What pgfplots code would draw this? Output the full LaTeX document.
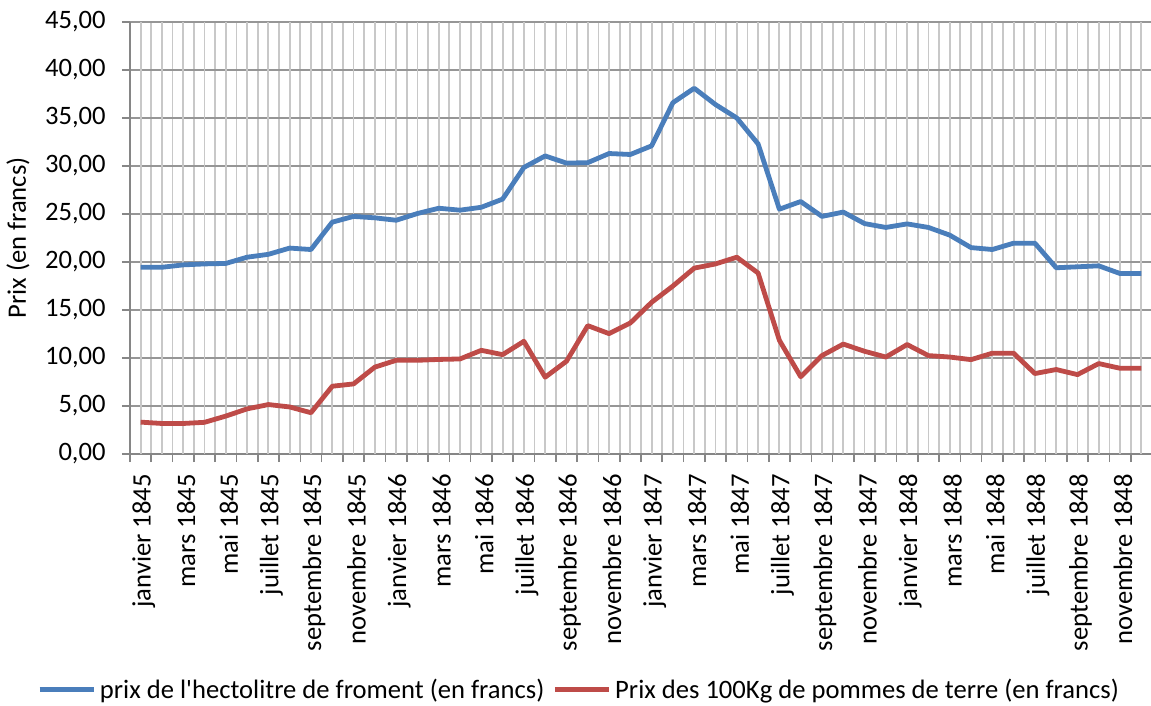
\documentclass[border=0pt]{standalone}
\usepackage{fontspec}
\setmainfont{Carlito}[Ligatures=TeXOff]
\usepackage{pgfplots}
\usepackage{pgfplotstable}
\pgfplotsset{compat=1.18}
\definecolor{cblue}{RGB}{74,126,187}
\definecolor{cred}{RGB}{190,75,72}
\definecolor{hgrid}{RGB}{150,150,150}
\definecolor{vgrid}{RGB}{200,200,200}
\definecolor{axisgray}{RGB}{134,134,134}
\pgfplotstableread{
i ble pdt
0 19.45 3.32
1 19.45 3.18
2 19.70 3.18
3 19.80 3.30
4 19.85 3.95
5 20.50 4.70
6 20.80 5.15
7 21.45 4.90
8 21.30 4.30
9 24.15 7.06
10 24.75 7.30
11 24.60 9.05
12 24.35 9.76
13 25.05 9.76
14 25.60 9.85
15 25.40 9.90
16 25.70 10.80
17 26.55 10.35
18 29.85 11.74
19 31.05 8.00
20 30.30 9.66
21 30.35 13.37
22 31.30 12.54
23 31.20 13.65
24 32.10 15.80
25 36.60 17.50
26 38.10 19.36
27 36.40 19.80
28 35.00 20.50
29 32.30 18.85
30 25.50 11.84
31 26.30 8.05
32 24.75 10.25
33 25.20 11.45
34 24.00 10.70
35 23.60 10.10
36 23.97 11.40
37 23.60 10.25
38 22.80 10.10
39 21.50 9.83
40 21.30 10.50
41 21.96 10.50
42 21.96 8.38
43 19.40 8.80
44 19.50 8.27
45 19.60 9.42
46 18.80 8.93
47 18.80 8.93
}\data
\begin{document}
\begin{tikzpicture}
\begin{axis}[
  at={(0,0)}, anchor=south west,
  scale only axis, width=511pt, height=216pt,
  xmin=-0.5, xmax=47.5, ymin=0, ymax=45,
  axis lines=left,
  axis line style={-, draw=axisgray, line width=0.8pt},
  tick align=outside,
  major tick length=4pt,
  tick style={draw=axisgray, line width=0.8pt},
  xtick={-0.5,0.5,...,47.5},
  xticklabels={},
  extra x ticks={0,1,...,47},
  extra x tick labels={janvier 1845,{},mars 1845,{},mai 1845,{},juillet 1845,{},septembre 1845,{},novembre 1845,{},
    janvier 1846,{},mars 1846,{},mai 1846,{},juillet 1846,{},septembre 1846,{},novembre 1846,{},
    janvier 1847,{},mars 1847,{},mai 1847,{},juillet 1847,{},septembre 1847,{},novembre 1847,{},
    janvier 1848,{},mars 1848,{},mai 1848,{},juillet 1848,{},septembre 1848,{},novembre 1848,{}},
  extra x tick style={grid=major, major tick length=0pt},
  xmajorgrids=true, ymajorgrids=true,
  x grid style={draw=vgrid, line width=0.9pt},
  y grid style={draw=hgrid, line width=0.9pt},
  ytick={0,5,...,45},
  yticklabels={{0,00},{5,00},{10,00},{15,00},{20,00},{25,00},{30,00},{35,00},{40,00},{45,00}},
  every tick label/.append style={font=\fontsize{13.3}{16}\selectfont, text=black},
  x tick label style={rotate=90, anchor=east, inner sep=0pt, xshift=-10pt, yshift=-1.5pt},
  y tick label style={anchor=east, inner sep=0pt, xshift=-8pt},
  ylabel={Prix (en francs)},
  y label style={at={(axis description cs:-0.1096,0.5)}, anchor=center, font=\fontsize{13.3}{16}\selectfont},
  legend columns=2,
  legend style={at={(0.4403,-0.546)}, anchor=center, draw=none, fill=none,
    font=\fontsize{13.3}{16}\selectfont, inner sep=0pt,
    /tikz/every even column/.append style={column sep=2pt}},
  legend image code/.code={\draw[#1, line width=2.4pt] (0pt,0pt) -- (27pt,0pt);},
  legend cell align=left,
]
\addplot[cblue, line width=2.4pt, line join=round] table[x=i, y=ble] {\data};
\addlegendentry{prix de l'hectolitre de froment (en francs)}
\addplot[cred, line width=2.4pt, line join=round] table[x=i, y=pdt] {\data};
\addlegendentry{Prix des 100Kg de pommes de terre (en francs)}
\end{axis}
\pgfresetboundingbox
\useasboundingbox (-65pt,-126pt) rectangle (510.5pt,227pt);
\end{tikzpicture}
\end{document}
